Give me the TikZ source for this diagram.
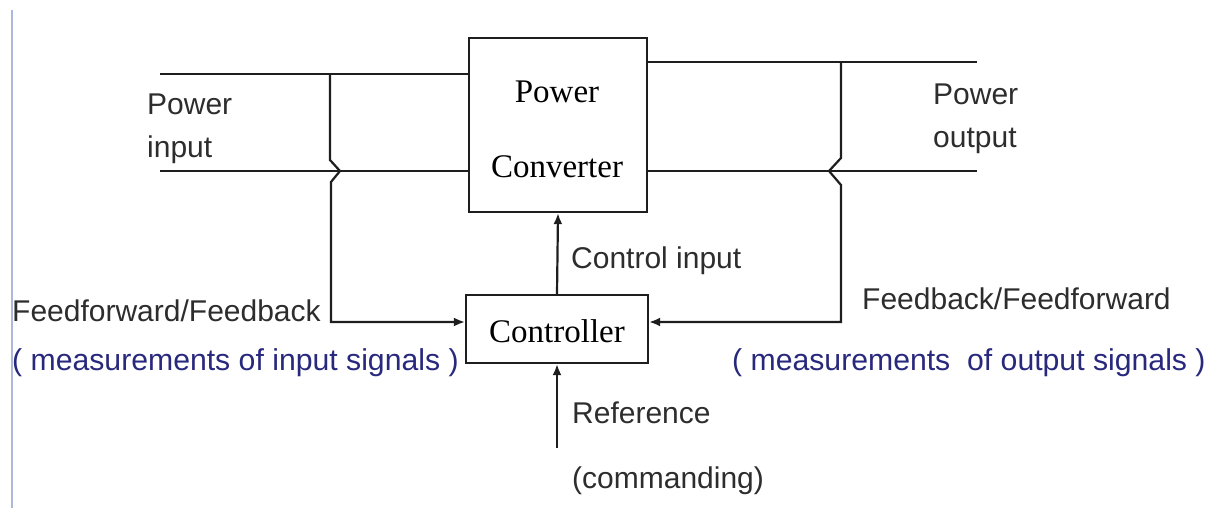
\documentclass[tikz,border=0pt]{standalone}
\usepackage{fontspec}
\setmainfont{Liberation Serif}
\setsansfont{Liberation Sans}
\usetikzlibrary{arrows.meta}
\definecolor{linecol}{RGB}{30,30,30}
\definecolor{txtcol}{RGB}{45,45,45}
\definecolor{bluetxt}{RGB}{40,40,125}
\definecolor{sideline}{RGB}{170,185,220}
\tikzset{
  block/.style={draw=linecol, line width=2.2pt, rectangle, inner sep=0pt},
  wire/.style={draw=linecol, line width=2.2pt},
  sig/.style={draw=linecol, line width=2.2pt, -{Latex[length=11pt,width=9pt]}},
  lab/.style={font=\sffamily\fontsize{30}{36}\selectfont, text=txtcol, inner sep=0pt, anchor=base west},
  bluelab/.style={font=\sffamily\fontsize{30.2}{36}\selectfont, text=bluetxt, inner sep=0pt, anchor=base west},
  serif/.style={font=\rmfamily\fontsize{33}{40}\selectfont, text=black, inner sep=0pt, anchor=base},
}
\begin{document}
\begin{tikzpicture}[x=1pt,y=-1pt]
\useasboundingbox (0,0) rectangle (1217,518);
% side rule
\draw[sideline, line width=2pt] (12,10) -- (12,508);
% blocks
\node[block, minimum width=178pt, minimum height=174pt] (conv) at (558,125) {};
\node[block, minimum width=182pt, minimum height=68pt] (ctrl) at (557,329) {};
\node[serif] (convA) at (557,103) {Power};
\node[serif] (convB) at (557,178) {Converter};
\node[serif] (ctrlT) at (557,342) {Controller};
% power lines
\coordinate (in1) at (160,74);
\coordinate (in2) at (160,171);
\coordinate (out1) at (977,62);
\coordinate (out2) at (977,171);
\draw[wire] (in1) -- (in1 -| conv.west);
\draw[wire] (in2) -- (in2 -| conv.west);
\draw[wire] (out1 -| conv.east) -- (out1);
\draw[wire] (out2 -| conv.east) -- (out2);
% feedforward tap (left) with jump
\coordinate (tapL) at (330,74);
\draw[sig] (tapL) -- (330,160) -- (340,171) -- (331,182) -- (331,322) -- (ctrl.west |- 0,322);
% feedback tap (right) with jump
\coordinate (tapR) at (841,62);
\draw[sig] (tapR) -- (841,158) -- (829,171) -- (841,185) -- (841,322) -- (ctrl.east |- 0,322);
% control input
\draw[sig] (ctrl.north) -- (conv.south);
% reference
\coordinate (ref) at (557,448);
\draw[sig] (ref) -- (ctrl.south);
% labels
\node[lab] (pin1) at (147,115) {Power};
\node[lab] (pin2) at (147,158) {input};
\node[lab] (pout1) at (933,105) {Power};
\node[lab] (pout2) at (933,148) {output};
\node[lab] (ci) at (571,269) {Control input};
\node[lab] (ffl) at (12,322) {Feedforward/Feedback};
\node[bluelab] (mil) at (12,370) {( measurements of input signals )};
\node[lab] (fbr) at (862,310) {Feedback/Feedforward};
\node[bluelab] (mor) at (732,370) {( measurements\ \ of output signals )};
\node[lab] (refl) at (572,423) {Reference};
\node[lab] (cmd) at (572,488) {(commanding)};
\end{tikzpicture}
\end{document}
